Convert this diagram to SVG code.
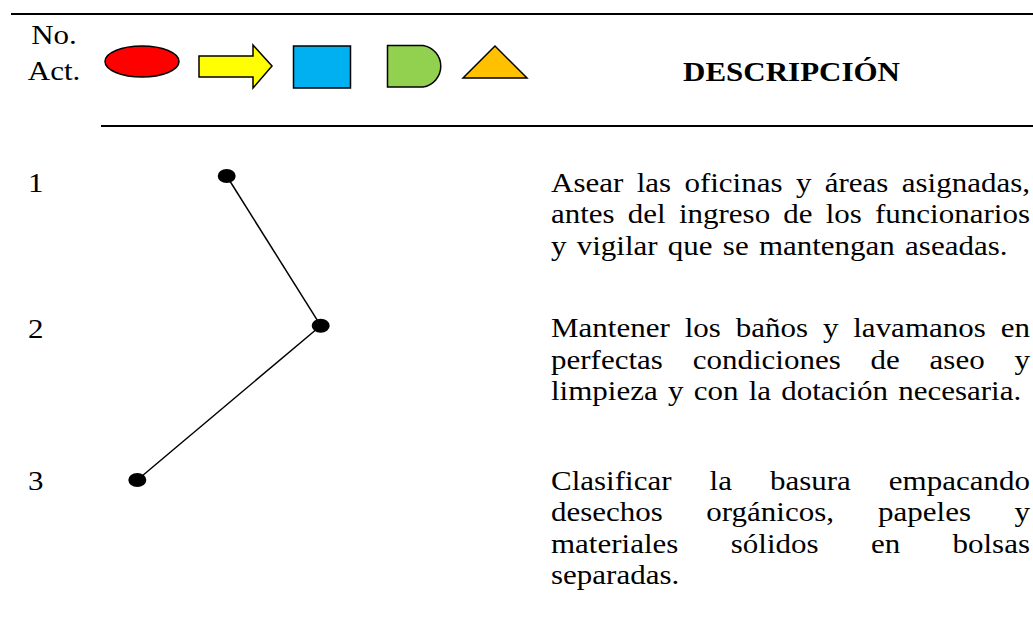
<svg xmlns="http://www.w3.org/2000/svg" width="1033" height="636" viewBox="0 0 1033 636">
<style>
text{font-family:"Liberation Serif","Times New Roman",serif;font-size:27.5px;fill:#000}
.b{font-weight:bold}
.l{word-spacing:2.2px}
.sym{stroke:#000;stroke-width:1.5}
.rule{stroke:#000;stroke-width:2}
.dot{fill:#000}
.conn{stroke:#000;stroke-width:1.5;fill:none}
</style>
<rect width="1033" height="636" fill="#fff"/>
<g id="header">
<line class="rule" x1="11" y1="14" x2="1033" y2="14"/>
<line class="rule" x1="101" y1="126" x2="1033" y2="126"/>
<text transform="translate(54,43.5) scale(1.1273,1)" text-anchor="middle">No.</text>
<text transform="translate(54,80) scale(1.1273,1)" text-anchor="middle">Act.</text>
<ellipse class="sym" cx="142" cy="61.5" rx="37" ry="15.5" fill="#FF0000"/>
<polygon class="sym" points="199,56 253,56 253,45 272,66 253,88 253,77 199,77" fill="#FFFF00"/>
<rect class="sym" x="293.5" y="46" width="57" height="42" fill="#00B0F0"/>
<path class="sym" d="M387.5,45.5 H423 A21,21 0 0 1 423,87 H387.5 Z" fill="#92D050"/>
<polygon class="sym" points="463,78 495,46 527,78" fill="#FFC000"/>
<text class="b" transform="translate(791.5,80.5) scale(1.1273,1)" text-anchor="middle">DESCRIPCIÓN</text>
</g>
<g id="connectors">
<line class="conn" x1="226.7" y1="176" x2="320.7" y2="325.7"/>
<line class="conn" x1="320.7" y1="325.7" x2="137.3" y2="480"/>
</g>
<g id="node1">
<ellipse class="dot" cx="226.7" cy="176" rx="9" ry="7"/>
<text transform="translate(28,192) scale(1.1273,1)">1</text>
<g transform="translate(551,0) scale(1.1273,1)">
<text y="192"><tspan x="0">Asear</tspan><tspan x="75.96">las</tspan><tspan x="118.34">oficinas</tspan><tspan x="217.24">y</tspan><tspan x="242.83">áreas</tspan><tspan x="311.15">asignadas,</tspan></text>
<text y="223.5"><tspan x="0">antes</tspan><tspan x="68.18">del</tspan><tspan x="113.45">ingreso</tspan><tspan x="206.07">de</tspan><tspan x="243.69">los</tspan><tspan x="287.45">funcionarios</tspan></text>
<text class="l" x="0" y="255">y vigilar que se mantengan aseadas.</text>
</g>
</g>
<g id="node2">
<ellipse class="dot" cx="320.7" cy="325.7" rx="9" ry="7"/>
<text transform="translate(28,337.5) scale(1.1273,1)">2</text>
<g transform="translate(551,0) scale(1.1273,1)">
<text y="337.5"><tspan x="0">Mantener</tspan><tspan x="118.57">los</tspan><tspan x="163.85">baños</tspan><tspan x="241.2">y</tspan><tspan x="268.13">lavamanos</tspan><tspan x="398.95">en</tspan></text>
<text y="369"><tspan x="0">perfectas</tspan><tspan x="125.68">condiciones</tspan><tspan x="283.48">de</tspan><tspan x="335.87">aseo</tspan><tspan x="411.18">y</tspan></text>
<text class="l" x="0" y="400.5">limpieza y con la dotación necesaria.</text>
</g>
</g>
<g id="node3">
<ellipse class="dot" cx="137.3" cy="480" rx="9" ry="7"/>
<text transform="translate(28,490) scale(1.1273,1)">3</text>
<g transform="translate(551,0) scale(1.1273,1)">
<text y="490"><tspan x="0">Clasificar</tspan><tspan x="140.63">la</tspan><tspan x="194.19">basura</tspan><tspan x="299.67">empacando</tspan></text>
<text y="521.3"><tspan x="0">desechos</tspan><tspan x="137.82">orgánicos,</tspan><tspan x="290.15">papeles</tspan><tspan x="411.17">y</tspan></text>
<text y="552.6"><tspan x="0">materiales</tspan><tspan x="159.43">sólidos</tspan><tspan x="283.78">en</tspan><tspan x="356.15">bolsas</tspan></text>
<text class="l" x="0" y="584">separadas.</text>
</g>
</g>
</svg>
